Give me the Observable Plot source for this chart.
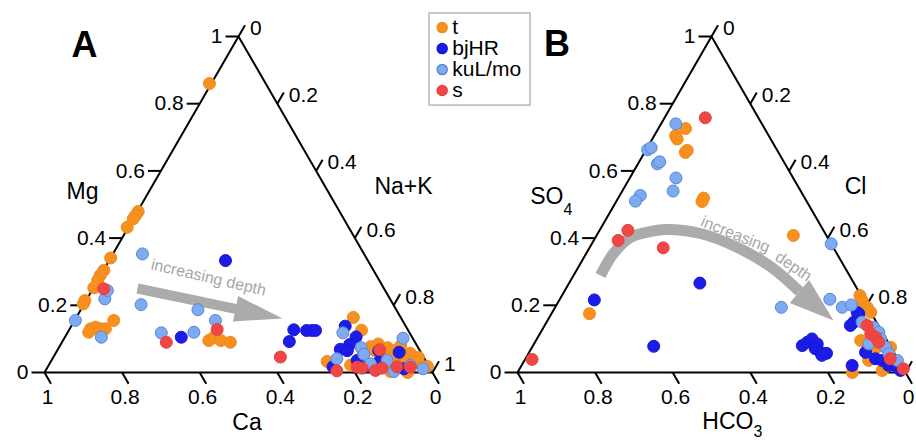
<!DOCTYPE html>
<html><head><meta charset="utf-8">
<script src="https://cdn.jsdelivr.net/npm/d3@7"></script>
<script src="https://cdn.jsdelivr.net/npm/@observablehq/plot@0.6"></script>
<style>body{margin:0;background:#fff;}</style>
</head><body><div id="chart"></div>
<script>
const H = Math.sqrt(3) / 2;
const OFFSET_B = 473 / 388;

const seriesNames = ["t", "bjHR", "kuL/mo", "s"];
const seriesFill = ["#f7901e", "#1c1ce8", "#7eaaf2", "#f04646"];
const seriesStroke = ["#f08a18", "#1818d8", "#5a86d6", "#e84040"];

// Panel A: [Ca, Mg]  (Na+K = 1 - Ca - Mg)
const tA = [[0.145,0.860],[0.519,0.479],[0.532,0.467],[0.543,0.457],[0.571,0.432],[0.659,0.341],[0.695,0.304],[0.712,0.289],[0.726,0.274],[0.747,0.252],[0.789,0.214],[0.798,0.204],[0.816,0.130],[0.801,0.135],[0.791,0.130],[0.778,0.130],[0.826,0.120],[0.744,0.155],[0.796,0.120],[0.529,0.095],[0.511,0.105],[0.498,0.095],[0.476,0.090],[0.122,0.164],[0.120,0.126],[0.121,0.077],[0.097,0.085],[0.079,0.074],[0.068,0.065],[0.042,0.080],[0.029,0.057],[0.014,0.045],[0.255,0.033],[0.200,0.022],[0.153,0.051],[0.055,0.041],[0.024,0.030],[0.064,0.000],[0.004,0.018],[0.116,0.065],[0.070,0.051],[0.108,0.042],[0.107,0.003]];
const bA = [[0.367,0.333],[0.595,0.105],[0.294,0.127],[0.262,0.125],[0.249,0.125],[0.239,0.125],[0.323,0.092],[0.156,0.138],[0.144,0.106],[0.172,0.083],[0.203,0.069],[0.187,0.065],[0.056,0.060],[0.248,0.017],[0.176,0.036],[0.123,0.031],[0.068,0.011],[0.106,0.065],[0.170,0.015]];
const kA = [[0.843,0.155],[0.735,0.219],[0.716,0.244],[0.801,0.105],[0.571,0.353],[0.650,0.202],[0.640,0.118],[0.511,0.187],[0.555,0.120],[0.482,0.155],[0.172,0.118],[0.147,0.074],[0.150,0.054],[0.226,0.041],[0.147,0.026],[0.099,0.036],[0.025,0.102],[0.098,0.003],[0.047,0.021],[0.019,0.011]];
const sA = [[0.723,0.249],[0.641,0.090],[0.491,0.128],[0.369,0.046],[0.102,0.068],[0.244,0.005],[0.186,0.016],[0.175,0.013],[0.144,0.006],[0.124,0.013],[0.083,0.017],[0.049,0.016]];

// Panel B: [HCO3, SO4]  (Cl = 1 - HCO3 - SO4)
const tB = [[0.204,0.726],[0.240,0.705],[0.241,0.695],[0.240,0.655],[0.232,0.661],[0.261,0.519],[0.270,0.509],[0.727,0.175],[0.085,0.408],[0.003,0.229],[0.005,0.214],[0.002,0.194],[0.000,0.179],[0.068,0.095],[0.042,0.071],[0.001,0.075],[0.051,0.011],[0.137,0.000],[0.057,0.006],[0.077,0.036]];
const bB = [[0.397,0.266],[0.694,0.216],[0.610,0.078],[0.226,0.080],[0.208,0.090],[0.191,0.100],[0.185,0.085],[0.197,0.071],[0.189,0.060],[0.175,0.057],[0.190,0.051],[0.033,0.175],[0.058,0.150],[0.072,0.140],[0.073,0.060],[0.057,0.041],[0.042,0.036],[0.033,0.021],[0.013,0.016],[0.010,0.006],[0.127,0.021],[0.035,0.179]];
const kB = [[0.222,0.740],[0.333,0.663],[0.321,0.669],[0.329,0.621],[0.320,0.627],[0.302,0.579],[0.329,0.540],[0.420,0.527],[0.441,0.510],[0.000,0.383],[0.223,0.194],[0.086,0.218],[0.066,0.194],[0.039,0.201],[0.037,0.150],[0.015,0.135],[0.009,0.120],[0.014,0.100],[0.052,0.085],[0.014,0.075],[0.015,0.056],[0.003,0.036]];
const sB = [[0.137,0.758],[0.504,0.423],[0.544,0.393],[0.439,0.371],[0.943,0.039],[0.029,0.140],[0.032,0.115],[0.025,0.105],[0.024,0.090],[0.019,0.041],[0.000,0.011]];

const tickValues = [0, 0.2, 0.4, 0.6, 0.8, 1];
const tickLabels = ["0", "0.2", "0.4", "0.6", "0.8", "1"];

// annotation geometry (plot units, side = 1)
const arrowA = [[0.2423,0.2291],[0.4948,0.1768],[0.499,0.1969],[0.6134,0.1392],[0.4856,0.1314],[0.4897,0.1515],[0.2371,0.2039]];
const curveB = [[1.4330,0.2500],[1.4665,0.3067],[1.5103,0.3479],[1.5619,0.3634],[1.6005,0.3686],[1.6907,0.3582],[1.7809,0.3247],[1.8711,0.2732],[1.9459,0.2088]];
const headB = [[1.9709,0.2381],[2.0335,0.1340],[1.9209,0.1794]];

const panels = [
  {ox: 0, data: [tA, bA, kA, sA]},
  {ox: OFFSET_B, data: [tB, bB, kB, sB]}
];

const L = 13 / 388;
const marks = [];

for (const p of panels) {
  const o = p.ox;
  marks.push(Plot.line([[o,0],[o+1,0],[o+0.5,H],[o,0]], {stroke: "black", strokeWidth: 2}));
  const ticks = tickValues.map((v, i) => ({v, lab: tickLabels[i]}));
  // left edge
  marks.push(Plot.link(ticks, {x1: d => o + d.v/2, y1: d => d.v*H, x2: d => o + d.v/2 - L, y2: d => d.v*H, stroke: "black", strokeWidth: 2}));
  marks.push(Plot.text(ticks, {x: d => o + d.v/2 - L, y: d => d.v*H, text: "lab", textAnchor: "end", dx: -3, fontSize: 21}));
  // bottom edge (value 1 at left)
  marks.push(Plot.link(ticks, {x1: d => o + 1 - d.v, y1: 0, x2: d => o + 1 - d.v + L*0.5, y2: -L*H, stroke: "black", strokeWidth: 2}));
  marks.push(Plot.text(ticks, {x: d => o + 1 - d.v, y: 0, text: "lab", dx: 3, dy: 25, fontSize: 21}));
  // right edge (0 at top)
  marks.push(Plot.link(ticks, {x1: d => o + 0.5 + d.v/2, y1: d => (1-d.v)*H, x2: d => o + 0.5 + d.v/2 + L*0.5, y2: d => (1-d.v)*H + L*H, stroke: "black", strokeWidth: 2}));
  marks.push(Plot.text(ticks, {x: d => o + 0.5 + d.v/2 + L*0.5, y: d => (1-d.v)*H + L*H, text: "lab", textAnchor: "start", dx: 5, dy: 3, fontSize: 21}));
}

// arrows
const gray = "#ababab";
marks.push(Plot.line(arrowA, {fill: gray, stroke: "none"}));
marks.push(Plot.line(curveB, {stroke: gray, strokeWidth: 11, curve: "catmull-rom", strokeLinecap: "butt"}));
marks.push(Plot.line(headB, {fill: gray, stroke: "none"}));
marks.push(Plot.text([{x: 0.4227, y: 0.2449, t: "increasing depth", r: 13}, {x: 1.7809, y: 0.3557, t: "increasing", r: 22}, {x: 1.9304, y: 0.2732, t: "depth", r: 34}],
  {x: "x", y: "y", text: "t", rotate: "r", fill: "#a6a6a6", fontSize: 16}));

// points
for (const p of panels) {
  p.data.forEach((arr, i) => {
    marks.push(Plot.dot(arr, {x: d => p.ox + 1 - d[0] - d[1]/2, y: d => d[1]*H, r: 6, fill: seriesFill[i], stroke: seriesStroke[i], strokeWidth: 1}));
  });
}

// axis names
const names = [
  {x: 0.0979, y: 0.465, t: "Mg", a: "middle", s: 23},
  {x: 0.9253, y: 0.4778, t: "Na+K", a: "middle", s: 23},
  {x: 0.5219, y: -0.1304, t: "Ca", a: "middle", s: 23},
  {x: 1.3376, y: 0.4521, t: "SO", a: "end", s: 23},
  {x: 1.3376, y: 0.4204, t: "4", a: "start", s: 16},
  {x: 2.0902, y: 0.4778, t: "Cl", a: "middle", s: 23},
  {x: 1.8273, y: -0.1270, t: "HCO", a: "end", s: 23},
  {x: 1.8273, y: -0.1518, t: "3", a: "start", s: 16}
];
for (const n of names) {
  marks.push(Plot.text([n], {x: "x", y: "y", text: "t", textAnchor: n.a, fontSize: n.s}));
}
marks.push(Plot.text([{x: 0.1031, y: 0.844, t: "A"}, {x: 1.3209, y: 0.8466, t: "B"}], {x: "x", y: "y", text: "t", fontSize: 36, fontWeight: "bold"}));

// legend
marks.push(Plot.rect([{x1: 0.9923, x2: 1.2526, y1: 0.688, y2: 0.9253}], {x1: "x1", x2: "x2", y1: "y1", y2: "y2", fill: "white", stroke: "#b8b8b8", strokeWidth: 1.5}));
const legend = seriesNames.map((s, i) => ({s, i}));
marks.push(Plot.dot(legend, {x: 1.025, y: d => 0.889 - d.i*0.0541, r: 5, fill: d => seriesFill[d.i], stroke: d => seriesStroke[d.i]}));
marks.push(Plot.text(legend, {x: 1.025, y: d => 0.889 - d.i*0.0541, text: "s", textAnchor: "start", dx: 10, fontSize: 21}));

const chart = Plot.plot({
  width: 916, height: 440,
  marginTop: 0, marginRight: 0, marginBottom: 0, marginLeft: 0,
  x: {domain: [0, 1], range: [44, 432], axis: null},
  y: {domain: [0, H], range: [372, 36], axis: null},
  style: {fontFamily: "'Liberation Sans', Arial, sans-serif", background: "white", color: "black"},
  marks
});
document.getElementById("chart").appendChild(chart);
</script>
</body></html>
